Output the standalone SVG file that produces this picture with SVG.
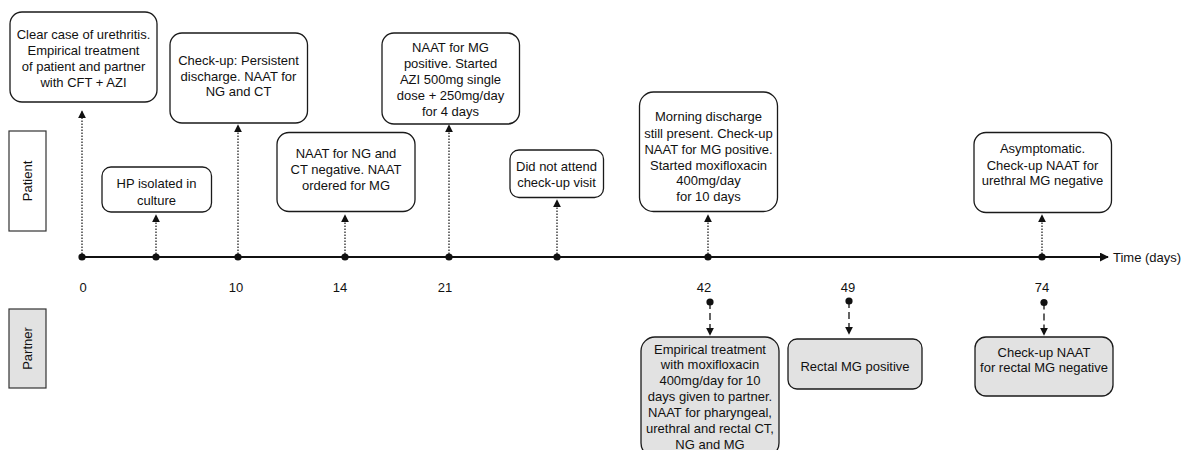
<svg xmlns="http://www.w3.org/2000/svg" width="1186" height="450" viewBox="0 0 1186 450">
<defs>
<style>
text{font-family:"Liberation Sans",Arial,sans-serif;font-size:13px;fill:#111;text-anchor:middle}
.box{fill:#fff;stroke:#1a1a1a;stroke-width:1.3}
.pbox{fill:#e2e2e2;stroke:#1a1a1a;stroke-width:1.3}
.dot{stroke:#111;stroke-width:1.2;stroke-dasharray:1.5,1.5;fill:none}
.dash{stroke:#111;stroke-width:1.3;stroke-dasharray:7,4;fill:none}
</style>
<marker id="ah" viewBox="0 0 10 10" refX="9" refY="5" markerWidth="8" markerHeight="8" markerUnits="userSpaceOnUse" orient="auto"><path d="M0,0L10,5L0,10Z" fill="#111"/></marker>
<marker id="axh" viewBox="0 0 10 10" refX="9" refY="5" markerWidth="9" markerHeight="9" markerUnits="userSpaceOnUse" orient="auto"><path d="M0,0L10,5L0,10Z" fill="#111"/></marker>
</defs>

<g id="lane-patient"><rect x="9" y="131" width="37" height="100" fill="#fff" stroke="#333" stroke-width="1.2"/><text transform="translate(32,181) rotate(-90)">Patient</text></g>
<g id="lane-partner"><rect x="9" y="309" width="37" height="79" fill="#e2e2e2" stroke="#333" stroke-width="1.2"/><text transform="translate(32,348.5) rotate(-90)">Partner</text></g>

<g id="connectors">
<line x1="82" y1="257" x2="1108" y2="257" stroke="#111" stroke-width="2" marker-end="url(#axh)"/>
<line class="dot" x1="82" y1="257" x2="82" y2="111" marker-end="url(#ah)"/>
<line class="dot" x1="156" y1="257" x2="156" y2="215" marker-end="url(#ah)"/>
<line class="dot" x1="238" y1="257" x2="238" y2="125" marker-end="url(#ah)"/>
<line class="dot" x1="345" y1="257" x2="345" y2="215" marker-end="url(#ah)"/>
<line class="dot" x1="449" y1="257" x2="449" y2="125" marker-end="url(#ah)"/>
<line class="dot" x1="557" y1="257" x2="557" y2="200" marker-end="url(#ah)"/>
<line class="dot" x1="708" y1="257" x2="708" y2="215" marker-end="url(#ah)"/>
<line class="dot" x1="1042" y1="257" x2="1042" y2="215" marker-end="url(#ah)"/>
<g fill="#111">
<circle cx="82" cy="257" r="3.6"/><circle cx="156" cy="257" r="3.6"/><circle cx="238" cy="257" r="3.6"/><circle cx="345" cy="257" r="3.6"/><circle cx="449" cy="257" r="3.6"/><circle cx="557" cy="257" r="3.6"/><circle cx="708" cy="257" r="3.6"/><circle cx="1042" cy="257" r="3.6"/>
<circle cx="710" cy="302" r="3.6"/><circle cx="849" cy="301" r="3.6"/><circle cx="1044" cy="302.5" r="3.6"/>
</g>
<line class="dash" x1="710" y1="302" x2="710" y2="335" marker-end="url(#ah)"/>
<line class="dash" x1="849" y1="301" x2="849" y2="334" marker-end="url(#ah)"/>
<line class="dash" x1="1044" y1="302.5" x2="1044" y2="335" marker-end="url(#ah)"/>
</g>

<g id="axis-labels">
<text x="83" y="292">0</text><text x="236" y="292">10</text><text x="340" y="292">14</text><text x="445" y="292">21</text><text x="704" y="292">42</text><text x="848" y="292">49</text><text x="1042" y="292">74</text>
<text x="1113" y="262" style="text-anchor:start">Time (days)</text>
</g>

<g id="n1"><rect class="box" x="10" y="12" width="147" height="90" rx="12"/>
<text x="83.5" y="38.5">Clear case of urethritis.</text><text x="83.5" y="55">Empirical treatment</text><text x="83.5" y="71">of patient and partner</text><text x="83.5" y="87">with CFT + AZI</text></g>

<g id="n2"><rect class="box" x="170" y="33" width="137.5" height="90" rx="12"/>
<text x="238.5" y="64.5">Check-up: Persistent</text><text x="238.5" y="80.5">discharge. NAAT for</text><text x="238.5" y="96">NG and CT</text></g>

<g id="n3"><rect class="box" x="102" y="167" width="109.5" height="45" rx="9"/>
<text x="156.5" y="188">HP isolated in</text><text x="156.5" y="204.5">culture</text></g>

<g id="n4"><rect class="box" x="277" y="132.5" width="138" height="79" rx="12"/>
<text x="346" y="158">NAAT for NG and</text><text x="346" y="174">CT negative. NAAT</text><text x="346" y="189.5">ordered for MG</text></g>

<g id="n5"><rect class="box" x="382" y="33" width="137.5" height="91" rx="12"/>
<text x="450.5" y="52">NAAT for MG</text><text x="450.5" y="68">positive. Started</text><text x="450.5" y="84">AZI 500mg single</text><text x="450.5" y="99.5">dose + 250mg/day</text><text x="450.5" y="115.5">for 4 days</text></g>

<g id="n6"><rect class="box" x="510" y="150" width="93.5" height="47.5" rx="9"/>
<text x="556.5" y="170.5">Did not attend</text><text x="556.5" y="186.5">check-up visit</text></g>

<g id="n7"><rect class="box" x="639.5" y="92" width="138" height="119.5" rx="14"/>
<text x="708.5" y="121">Morning discharge</text><text x="708.5" y="137.5">still present. Check-up</text><text x="708.5" y="153.5">NAAT for MG positive.</text><text x="708.5" y="169.5">Started moxifloxacin</text><text x="708.5" y="185">400mg/day</text><text x="708.5" y="201">for 10 days</text></g>

<g id="n8"><rect class="box" x="974" y="132.5" width="137.5" height="80" rx="12"/>
<text x="1042.5" y="153">Asymptomatic.</text><text x="1042.5" y="169.5">Check-up NAAT for</text><text x="1042.5" y="185">urethral MG negative</text></g>

<g id="p1"><rect class="pbox" x="641" y="337" width="138" height="120" rx="14"/>
<text x="710" y="353.5">Empirical treatment</text><text x="710" y="368.5">with moxifloxacin</text><text x="710" y="385">400mg/day for 10</text><text x="710" y="400.5">days given to partner.</text><text x="710" y="416.5">NAAT for pharyngeal,</text><text x="710" y="432.5">urethral and rectal CT,</text><text x="710" y="448.5">NG and MG</text></g>

<g id="p2"><rect class="pbox" x="788" y="339" width="134" height="50" rx="9"/>
<text x="855" y="371">Rectal MG positive</text></g>

<g id="p3"><rect class="pbox" x="975" y="337" width="138" height="59" rx="11"/>
<text x="1044" y="356.5">Check-up NAAT</text><text x="1044" y="372">for rectal MG negative</text></g>
</svg>
